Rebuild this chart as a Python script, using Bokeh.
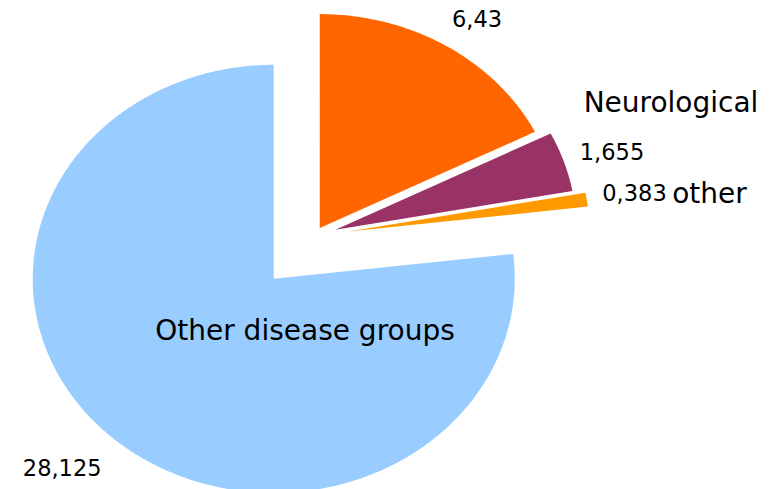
import numpy as np
from bokeh.plotting import figure
from bokeh.models import ColumnDataSource, Range1d
from bokeh.core.properties import value
from bokeh.embed import file_html
from bokeh.resources import INLINE

# ---- data ----
categories = ["(unlabelled)", "Neurological", "other", "Other disease groups"]
values = [6.43, 1.655, 0.383, 28.125]
value_labels = ["6,43", "1,655", "0,383", "28,125"]
name_labels = ["Neurological", "other", "Other disease groups"]

# ---- styles / layout ----
colors = ["#FF6600", "#993366", "#FF9900", "#99CCFF"]
# explode offsets of each slice apex (in pie-radius units)
explode_dx = [0.043, 0.108, 0.162, -0.148]
explode_dy = [0.071, 0.063, 0.055, -0.166]
# label anchors (data units, baseline / centre)
value_label_x = [0.6954, 1.2556, 1.3490, -1.0257]
value_label_y = [1.0524, 0.4309, 0.2361, -1.0490]
name_label_x = [1.5004, 1.6602, -0.0183]
name_label_y = [0.6566, 0.2314, -0.4055]

total = sum(values)
xs, ys = [], []
start = 0.0
for v, dx, dy in zip(values, explode_dx, explode_dy):
    span = v / total * 2 * np.pi
    n = max(4, int(600 * v / total))
    th = np.linspace(start, start + span, n)
    # clockwise from 12 o'clock
    px = np.concatenate([[0.0], np.sin(th), [0.0]]) + dx
    py = np.concatenate([[0.0], np.cos(th), [0.0]]) + dy
    xs.append(list(px))
    ys.append(list(py))
    start += span

src = ColumnDataSource(dict(xs=xs, ys=ys, color=colors, cat=categories, val=values))

p = figure(width=776, height=489,
           x_range=Range1d(-1.28174, 1.93817), y_range=Range1d(-1.15047, 1.13458),
           output_backend="svg", toolbar_location=None,
           x_axis_location=None, y_axis_location=None, min_border=0)
p.grid.visible = False
p.outline_line_color = None
p.background_fill_color = "white"
p.border_fill_color = "white"

p.patches("xs", "ys", fill_color="color", line_color=None, source=src)

vsrc = ColumnDataSource(dict(x=value_label_x, y=value_label_y, t=value_labels))
p.text("x", "y", text="t", source=vsrc, text_font=value("DejaVu Sans"),
       text_font_size="22.5px", text_align="center", text_baseline="alphabetic",
       text_color="#000000")

nsrc = ColumnDataSource(dict(x=name_label_x, y=name_label_y, t=name_labels))
p.text("x", "y", text="t", source=nsrc, text_font=value("DejaVu Sans"),
       text_font_size="28px", text_align="center", text_baseline="alphabetic",
       text_color="#000000")

open("out.html", "w").write(file_html(p, INLINE))
